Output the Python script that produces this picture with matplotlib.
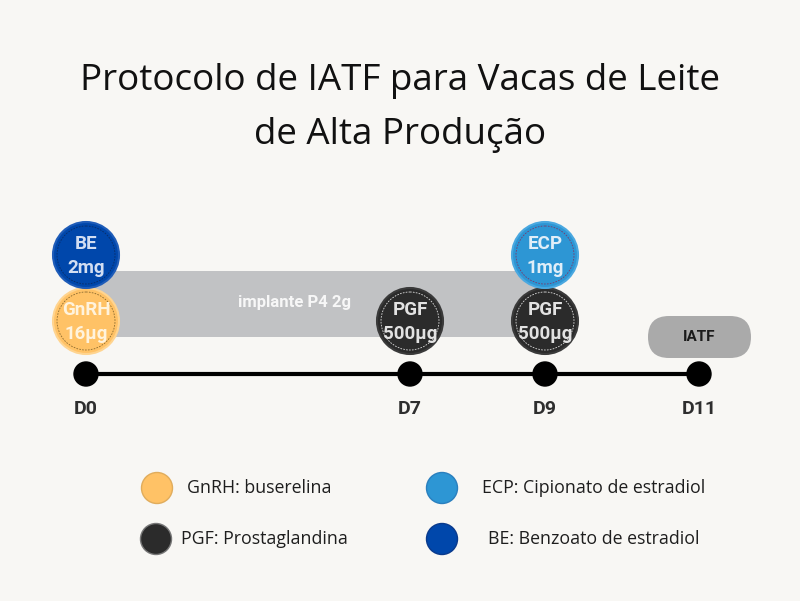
import matplotlib.pyplot as plt
from matplotlib.patches import Circle, FancyBboxPatch, Rectangle

plt.rcParams['font.family'] = ['Open Sans', 'DejaVu Sans']
BOLD = ['Roboto', 'DejaVu Sans']

title = "Protocolo de IATF para Vacas de Leite\nde Alta Produção"

# timeline
days = ["D0", "D7", "D9", "D11"]
day_x = {"D0": 86, "D7": 410, "D9": 545, "D11": 699}   # schematic positions (px)

# hormones given on each day: (day, stack level, label, dose)
hormone_day = ["D0", "D0", "D7", "D9", "D9"]
hormone_lvl = [0, 1, 0, 0, 1]
hormone_name = ["GnRH", "BE", "PGF", "PGF", "ECP"]
hormone_dose = ["16µg", "2mg", "500µg", "500µg", "1mg"]

colors = {"GnRH": "#FFC266", "BE": "#0047AB", "PGF": "#2B2B2B", "ECP": "#2D96D4"}
edge_colors = {"GnRH": "#FFD48F", "BE": "#1F5CB8", "PGF": "#3A3A3A", "ECP": "#4AA8E0"}
leg_edges = {"GnRH": "#E0AC5C", "BE": "#0A3A8C", "PGF": "#777777", "ECP": "#2A7FBE"}
text_colors = {"GnRH": "#FFF3DD", "BE": "#D2DEF2", "PGF": "#E2E2E2", "ECP": "#E0EEF8"}
ring_colors = {"GnRH": "#8A6A30", "BE": "#0A2C66", "PGF": "#DDDDDD", "ECP": "#7A3A6A"}

implant_label = "implante P4 2g"
implant_span = ("D0", "D9")
insem_label = "IATF"
insem_day = "D11"

legend_names = ["GnRH", "ECP", "PGF", "BE"]
legend_texts = ["GnRH: buserelina", "ECP: Cipionato de estradiol",
                "PGF: Prostaglandina", "BE: Benzoato de estradiol"]

bg = "#F8F7F4"
fig = plt.figure(figsize=(8, 6.01), dpi=100, facecolor=bg)
ax = fig.add_axes([0, 0, 1, 1])
ax.set_xlim(0, 800)
ax.set_ylim(601, 0)
ax.axis("off")
ax.set_facecolor(bg)

ax.text(400, 108, title, ha="center", va="center", fontsize=26.5,
        color="#111111", linespacing=1.65)

line_y = 374
base_y = 321
step = 66
r = 33

# implant band
x0, x1 = day_x[implant_span[0]], day_x[implant_span[1]]
ax.add_patch(Rectangle((x0, 271), x1 - x0, 66, facecolor="#C1C2C4",
                       edgecolor="none", zorder=1))
ax.text(295, 302, implant_label, ha="center", va="center", fontsize=12,
        fontweight="bold", family=BOLD, color="#F7F7F7", zorder=2)

# timeline
ax.plot([day_x[days[0]], day_x[days[-1]]], [line_y, line_y], color="black",
        lw=3, zorder=2, solid_capstyle="butt")
for d in days:
    ax.add_patch(Circle((day_x[d], line_y), 12, color="black", zorder=3))
    ax.text(day_x[d], 409, d, ha="center", va="center", fontsize=14,
            fontweight="bold", family=BOLD, color="#2E2E2E")

# hormone circles
for d, lvl, name, dose in zip(hormone_day, hormone_lvl, hormone_name, hormone_dose):
    cx = day_x[d]
    cy = base_y - lvl * step
    ax.add_patch(Circle((cx, cy), r, facecolor=colors[name],
                        edgecolor=edge_colors[name], lw=1.5, zorder=4))
    ax.add_patch(Circle((cx, cy), r - 4, facecolor="none",
                        edgecolor=ring_colors[name], lw=0.6, ls=(0, (2, 1.5)),
                        zorder=5))
    ax.text(cx, cy - 11, name, ha="center", va="center", fontsize=13.5,
            fontweight="bold", family=BOLD, color=text_colors[name], zorder=6)
    ax.text(cx, cy + 13, dose, ha="center", va="center", fontsize=13.5,
            fontweight="bold", family=BOLD, color=text_colors[name], zorder=6)

# IATF pill
ix = day_x[insem_day]
ax.add_patch(FancyBboxPatch((ix - 51, 316), 103, 42,
                            boxstyle="round,pad=0,rounding_size=21",
                            facecolor="#AAAAAA", edgecolor="none", zorder=2))
ax.text(ix, 337, insem_label, ha="center", va="center", fontsize=11,
        fontweight="bold", family=BOLD, color="#1A1A1A", zorder=3)

# legend
leg_cx = [157, 442, 156, 442]
leg_cy = [488, 488, 539, 539]
leg_tx = [187, 482, 181, 488]
for name, txt, cx, cy, tx in zip(legend_names, legend_texts, leg_cx, leg_cy, leg_tx):
    ax.add_patch(Circle((cx, cy), 15.5, facecolor=colors[name],
                        edgecolor=leg_edges[name], lw=1.0, zorder=3))
    ax.text(tx, cy, txt, ha="left", va="center", fontsize=12.8,
            color="#1E1E1E")

fig.savefig("out.png", dpi=100, facecolor=bg)
